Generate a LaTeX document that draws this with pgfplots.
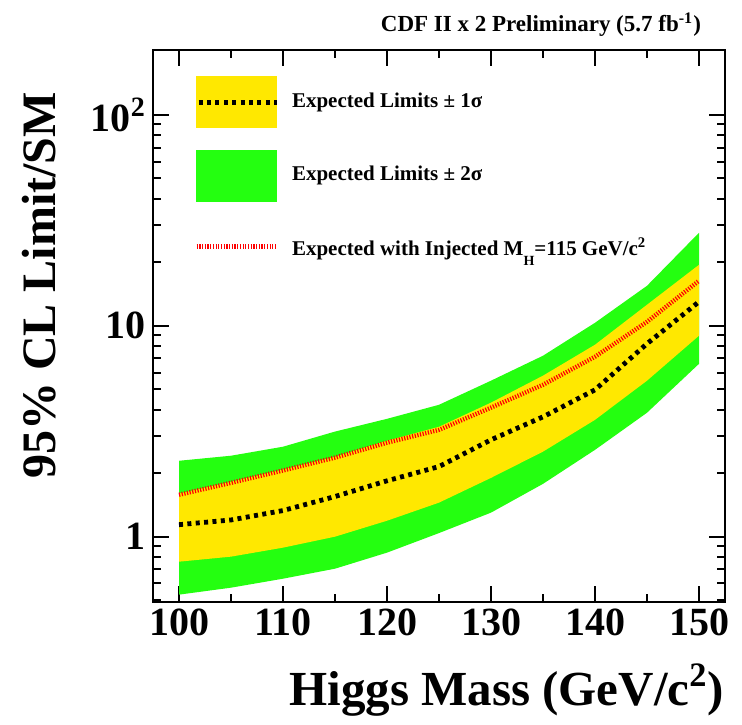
\documentclass[border=0pt]{standalone}
\usepackage{fontspec}
\setmainfont{Liberation Serif}
\usepackage{pgfplots}
\pgfplotsset{compat=1.18}
\usepackage{pgfplotstable}
\usepgfplotslibrary{fillbetween}
\definecolor{ylw}{RGB}{255,232,0}
\definecolor{grn}{RGB}{36,255,16}
\definecolor{redl}{RGB}{255,0,0}

\pgfplotstableread{
m gt yt r b yb gb
100 2.29 1.60 1.58 1.14 0.761 0.531
105 2.42 1.82 1.80 1.20 0.804 0.573
110 2.67 2.08 2.06 1.33 0.887 0.632
115 3.15 2.39 2.37 1.55 1.00 0.705
120 3.62 2.85 2.79 1.84 1.19 0.840
125 4.22 3.32 3.21 2.15 1.45 1.04
130 5.49 4.32 4.09 2.88 1.90 1.30
135 7.21 5.80 5.25 3.70 2.53 1.78
140 10.33 8.13 7.13 4.97 3.58 2.58
145 15.47 12.58 10.44 8.22 5.49 3.87
150 27.6 19.46 16.35 13.0 8.97 6.60
}\datatable

\begin{document}
\begin{tikzpicture}
\begin{axis}[name=ax, scale only axis, width=286pt, height=276pt,
  xmin=97.5, xmax=152.5, ymode=log, ymin=0.49, ymax=203,
  axis line style={line width=1.1pt},
  every tick/.style={black, line width=1pt},
  tick align=inside, major tick length=8pt, minor tick length=4pt,
  xtick={100,110,...,150}, minor xtick={105,115,...,145},
  ytick={1,10,100}, yticklabels={1,10,10\textsuperscript{2}},
  minor ytick={0.5,0.6,0.7,0.8,0.9,2,3,4,5,6,7,8,9,20,30,40,50,60,70,80,90},
  tick label style={font=\fontsize{20}{24}\selectfont\bfseries},
  /pgf/number format/assume math mode=true,
  xlabel={Higgs Mass (GeV/c\textsuperscript{2})},
  ylabel={95\% CL Limit/SM},
  xlabel style={font=\fontsize{24.5}{28}\selectfont\bfseries, at={(axis description cs:1.0105,-0.1866)}, anchor=base east},
  ylabel style={font=\fontsize{24}{28}\selectfont\bfseries, at={(axis description cs:-0.171,0.9366)}, anchor=base east, rotate=0},
  legend style={draw=none, fill=none, at={(axis description cs:0.0717,0.9529)}, anchor=north west,
    inner sep=0pt, row sep=11pt, nodes={inner sep=0pt},
    /tikz/every odd column/.append style={column sep=6.5pt},
    font=\fontsize{10.5}{12}\selectfont\bfseries},
  legend cell align=left,
]
\addlegendimage{legend image code/.code={
  \fill[ylw] (0pt,-13.25pt) rectangle (40pt,12.25pt);
  \draw[black, line width=2.4pt, dash pattern=on 2pt off 2.2pt] (1pt,-0.5pt) -- (40pt,-0.5pt);}}
\addlegendentry{Expected Limits ± 1σ}
\addlegendimage{legend image code/.code={
  \fill[grn] (0pt,-13.25pt) rectangle (40pt,12.25pt);}}
\addlegendentry{Expected Limits ± 2σ}
\addlegendimage{legend image code/.code={
  \path[draw=none, fill=none] (0pt,-13.25pt) rectangle (40pt,12.25pt);
  \draw[redl, line width=2.2pt, dash pattern=on 0.6pt off 0.75pt] (0pt,1pt) -- (40pt,1pt);}}
\addlegendentry{Expected with Injected M\raisebox{-0.45em}{\fontsize{7}{8}\selectfont H}=115 GeV/c\textsuperscript{2}}

\addplot[name path=gt, draw=none, forget plot] table[x=m, y=gt] {\datatable};
\addplot[name path=gb, draw=none, forget plot] table[x=m, y=gb] {\datatable};
\addplot[grn, forget plot] fill between[of=gt and gb];
\addplot[name path=yt, draw=none, forget plot] table[x=m, y=yt] {\datatable};
\addplot[name path=yb, draw=none, forget plot] table[x=m, y=yb] {\datatable};
\addplot[ylw, forget plot] fill between[of=yt and yb];
\addplot[redl, line width=2.2pt, dash pattern=on 0.6pt off 0.75pt, forget plot] table[x=m, y=r] {\datatable};
\addplot[black, line width=2.4pt, dash pattern=on 2pt off 2.2pt, forget plot] table[x=m, y=b] {\datatable};
\end{axis}
\node[anchor=base east, font=\fontsize{11.5}{14}\selectfont\bfseries, xshift=-8.5pt, yshift=9pt]
  at (ax.north east) {CDF II x 2 Preliminary (5.7 fb\textsuperscript{-1})};
\path (ax.south west) ++(-76.5pt,-61pt) coordinate (bl);
\path (ax.north east) ++(8.5pt,25pt) coordinate (tr);
\pgfresetboundingbox
\useasboundingbox (bl) rectangle (tr);
\end{tikzpicture}
\end{document}
